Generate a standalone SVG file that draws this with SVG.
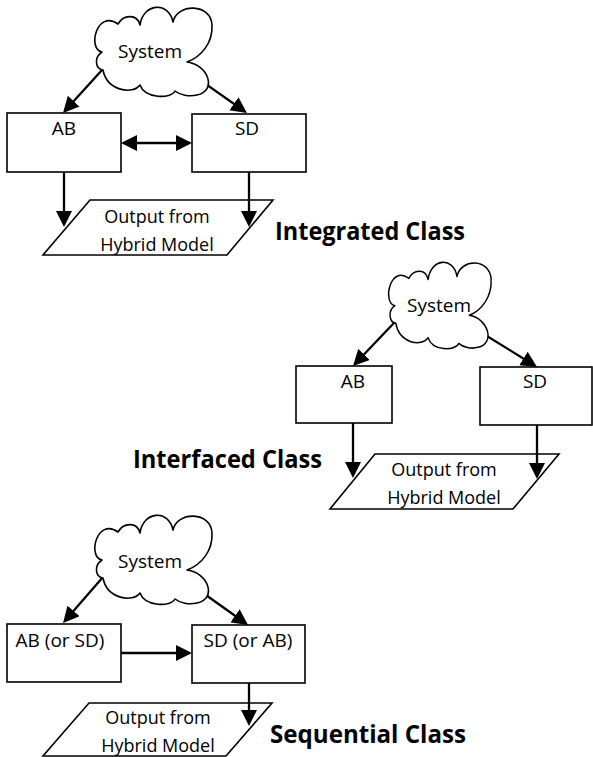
<svg xmlns="http://www.w3.org/2000/svg" width="593" height="757" viewBox="0 0 593 757">
<style>
.shape{fill:#fff;stroke:#000;stroke-width:1.6}
.cloud{fill:#fff;stroke:#000;stroke-width:1.6;stroke-linejoin:round}
.conn{fill:none;stroke:#000;stroke-width:2.3}
.t{font-family:"Open Sans","Liberation Sans",sans-serif;font-size:18px;fill:#000;text-anchor:middle}
.b{font-size:19px}
.title{font-family:"Open Sans","Liberation Sans",sans-serif;font-size:25px;font-weight:bold;fill:#000}
</style>
<defs>
<marker id="ah" markerUnits="userSpaceOnUse" markerWidth="16" markerHeight="16" refX="13" refY="8" orient="auto-start-reverse" viewBox="0 0 16 16">
<path d="M0,0 L16,8 L0,16 Z" fill="#000"/>
</marker>
<path id="cloudShape" d="M18,63 C10,62 9,50 17,45 C2,42 12,2 33,17 C38,8 52,6 55,18 C58,-4 84,-6 88,15 C92,-4 126,-4 127,18 C128,36 116,50 102,55 C124,58 132,84 112,88 C104,90 95,88 90,84 C86,92 60,92 55,78 C48,88 22,84 18,63 Z"/>
</defs>

<!-- Integrated Class -->
<g id="int-output">
<polygon class="shape" points="90,200 273,200 227,255 43,255"/>
<text class="t" x="157" y="223">Output from</text>
<text class="t" x="157" y="251">Hybrid Model</text>
</g>
<g id="int-ab">
<rect class="shape" x="7" y="113" width="114" height="59"/>
<text class="t b" x="64" y="135">AB</text>
</g>
<g id="int-sd">
<rect class="shape" x="192" y="114" width="114" height="58"/>
<text class="t b" x="247" y="135">SD</text>
</g>
<text class="title" x="275" y="240" textLength="190" lengthAdjust="spacingAndGlyphs">Integrated Class</text>

<!-- Interfaced Class -->
<g id="itf-output">
<polygon class="shape" points="375,454 559,454 513,509 330,509"/>
<text class="t" x="444" y="476">Output from</text>
<text class="t" x="444" y="504">Hybrid Model</text>
</g>
<g id="itf-ab">
<rect class="shape" x="296" y="366" width="96" height="57"/>
<text class="t b" x="353" y="388">AB</text>
</g>
<g id="itf-sd">
<rect class="shape" x="480" y="367" width="112" height="58"/>
<text class="t b" x="535" y="388">SD</text>
</g>
<text class="title" x="133" y="468" textLength="189" lengthAdjust="spacingAndGlyphs">Interfaced Class</text>

<!-- Sequential Class -->
<g id="seq-output">
<polygon class="shape" points="89,703 272,703 226,756 43,756"/>
<text class="t" x="158" y="724">Output from</text>
<text class="t" x="158" y="752">Hybrid Model</text>
</g>
<g id="seq-first">
<rect class="shape" x="7" y="624" width="114" height="58"/>
<text class="t b" x="60" y="647">AB (or SD)</text>
</g>
<g id="seq-second">
<rect class="shape" x="192" y="625" width="113" height="58"/>
<text class="t b" x="248" y="647">SD (or AB)</text>
</g>
<text class="title" x="270" y="743" textLength="196" lengthAdjust="spacingAndGlyphs">Sequential Class</text>

<!-- connectors -->
<g id="connectors" class="conn" marker-end="url(#ah)">
<line x1="105.4" y1="66.3" x2="65.0" y2="110.8"/>
<line x1="195.9" y1="77.1" x2="244.5" y2="111.3"/>
<line x1="124" y1="143" x2="189" y2="143" marker-start="url(#ah)"/>
<line x1="64" y1="172" x2="64" y2="224"/>
<line x1="249" y1="172" x2="249" y2="224"/>

<line x1="397.5" y1="319.2" x2="355.1" y2="363.8"/>
<line x1="477.1" y1="329.9" x2="534.5" y2="365.4"/>
<line x1="353" y1="423" x2="353" y2="475"/>
<line x1="537" y1="425" x2="537" y2="476"/>

<line x1="105.4" y1="574.3" x2="65.0" y2="620.7"/>
<line x1="196" y1="588" x2="245.6" y2="623.3"/>
<line x1="121" y1="653" x2="189" y2="653"/>
<line x1="249" y1="683" x2="249" y2="723"/>
</g>

<!-- clouds -->
<g id="int-system">
<use href="#cloudShape" class="cloud" transform="translate(85,7)"/>
<text class="t b" x="150" y="58">System</text>
</g>
<g id="itf-system">
<use href="#cloudShape" class="cloud" transform="translate(380,262) scale(0.875,0.97)" style="vector-effect:non-scaling-stroke"/>
<text class="t b" x="439" y="312">System</text>
</g>
<g id="seq-system">
<use href="#cloudShape" class="cloud" transform="translate(85,515)"/>
<text class="t b" x="150" y="568">System</text>
</g>
</svg>
